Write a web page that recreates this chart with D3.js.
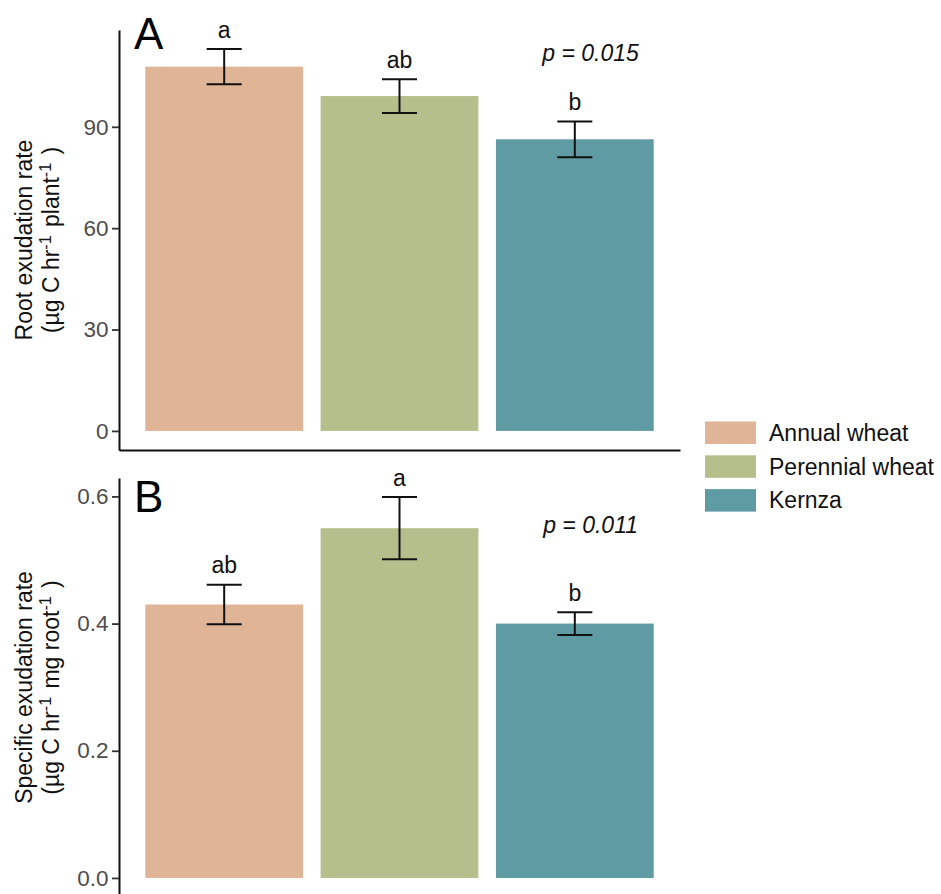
<!DOCTYPE html>
<html>
<head>
<meta charset="utf-8">
<script src="https://cdn.jsdelivr.net/npm/d3@7"></script>
<style>
  html, body { margin: 0; padding: 0; background: #fff; }
  svg { display: block; font-family: "Liberation Sans", Arial, Helvetica, sans-serif; }
</style>
</head>
<body>
<svg id="chart" width="941" height="894"></svg>
<script>
// Treatments and fill colours
const categories = ["Annual wheat", "Perennial wheat", "Kernza"];
const fills = ["#dfb497", "#b5bf8b", "#5f9ba3"];

// Panel A: root exudation rate per plant (mean ± SE)
const exudationMean = [107.8, 99.1, 86.3];
const exudationSE = [5.2, 5.0, 5.3];
const exudationLetters = ["a", "ab", "b"];
const exudationTicks = [0, 30, 60, 90];
const exudationP = "p = 0.015";

// Panel B: specific exudation rate per mg root (mean ± SE)
const specificMean = [0.43, 0.55, 0.40];
const specificSE = [0.031, 0.049, 0.018];
const specificLetters = ["ab", "a", "b"];
const specificTicks = [0, 0.2, 0.4, 0.6];
const specificP = "p = 0.011";

const svg = d3.select("#chart");
const FONT = 23;

// Shared discrete x scale (bar width 0.9 of a category step, 0.6 step margin at the ends)
const x = d3.scaleBand()
  .domain(categories)
  .range([119, 680])
  .paddingInner(0.1)
  .paddingOuter(0.15)
  .align(0.5);
const color = d3.scaleOrdinal().domain(categories).range(fills);

function drawPanel(cfg) {
  const rows = categories.map((c, i) => ({
    cat: c, mean: cfg.means[i], se: cfg.se[i], letter: cfg.letters[i]
  }));
  const hi = d3.max(rows, d => d.mean + d.se);
  const pad = hi * 0.05;
  const y = d3.scaleLinear().domain([-pad, hi + pad]).range([cfg.bottom, cfg.top]);

  const g = svg.append("g");

  // bars
  g.selectAll("rect.bar").data(rows).join("rect")
    .attr("class", "bar")
    .attr("x", d => x(d.cat))
    .attr("width", x.bandwidth())
    .attr("y", d => y(d.mean))
    .attr("height", d => y(0) - y(d.mean))
    .attr("fill", d => color(d.cat));

  // error bars
  const capHalf = x.step() * 0.1;
  const eb = g.selectAll("g.err").data(rows).join("g").attr("class", "err")
    .attr("stroke", "#111").attr("stroke-width", 2).attr("fill", "none");
  eb.append("line")
    .attr("x1", d => x(d.cat) + x.bandwidth() / 2)
    .attr("x2", d => x(d.cat) + x.bandwidth() / 2)
    .attr("y1", d => y(d.mean + d.se))
    .attr("y2", d => y(d.mean - d.se));
  eb.append("line")
    .attr("x1", d => x(d.cat) + x.bandwidth() / 2 - capHalf)
    .attr("x2", d => x(d.cat) + x.bandwidth() / 2 + capHalf)
    .attr("y1", d => y(d.mean + d.se))
    .attr("y2", d => y(d.mean + d.se));
  eb.append("line")
    .attr("x1", d => x(d.cat) + x.bandwidth() / 2 - capHalf)
    .attr("x2", d => x(d.cat) + x.bandwidth() / 2 + capHalf)
    .attr("y1", d => y(d.mean - d.se))
    .attr("y2", d => y(d.mean - d.se));

  // significance letters
  g.selectAll("text.letter").data(rows).join("text")
    .attr("class", "letter")
    .attr("x", d => x(d.cat) + x.bandwidth() / 2)
    .attr("y", d => y(d.mean + d.se) - 11.5)
    .attr("text-anchor", "middle")
    .attr("font-size", FONT)
    .attr("fill", "#111")
    .text(d => d.letter);

  // p-value annotation
  g.append("text")
    .attr("x", x("Kernza") + x.bandwidth() / 2 + x.step() * 0.09)
    .attr("y", y(cfg.pY))
    .attr("text-anchor", "middle")
    .attr("font-size", FONT)
    .attr("font-style", "italic")
    .attr("fill", "#111")
    .text(cfg.pText);

  // y axis
  const ya = g.append("g")
    .attr("transform", `translate(119,0)`)
    .call(d3.axisLeft(y).tickValues(cfg.ticks).tickFormat(cfg.fmt)
      .tickSize(7).tickSizeOuter(0).tickPadding(3.5));
  ya.select(".domain").attr("stroke", "#111").attr("stroke-width", 2);
  ya.selectAll(".tick line").attr("stroke", "#333").attr("stroke-width", 1.8);
  ya.selectAll(".tick text")
    .attr("font-size", 22.5)
    .attr("fill", "#4d4d4d")
    .attr("font-family", "Liberation Sans, Arial, sans-serif");

  // x axis line (no ticks or labels)
  const xa = g.append("g")
    .attr("transform", `translate(0,${cfg.bottom})`)
    .call(d3.axisBottom(x).tickSize(0).tickSizeOuter(0).tickFormat(""));
  xa.select(".domain").attr("stroke", "#111").attr("stroke-width", 2);
  xa.selectAll(".tick").remove();

  // y axis title, two lines with superscripts
  const cy = (cfg.top + cfg.bottom) / 2;
  const title = g.append("text")
    .attr("transform", `translate(0,${cy}) rotate(-90)`)
    .attr("text-anchor", "middle")
    .attr("font-size", FONT)
    .attr("fill", "#111");
  title.append("tspan").attr("x", 0).attr("y", 31.5).text(cfg.title1);
  const l2 = title.append("tspan").attr("x", 0).attr("y", 58.5);
  cfg.title2.forEach(part => {
    if (part.sup) {
      l2.append("tspan").attr("font-size", FONT * 0.7).attr("dy", -8).text(part.sup);
      l2.append("tspan").attr("dy", 8).text("\u200a");
    } else {
      l2.append("tspan").text(part.t);
    }
  });

  // panel tag
  g.append("text")
    .attr("x", 134)
    .attr("y", cfg.tagY)
    .attr("font-size", 44)
    .attr("fill", "#000")
    .text(cfg.tag);
}

drawPanel({
  top: 30, bottom: 450,
  means: exudationMean, se: exudationSE, letters: exudationLetters,
  ticks: exudationTicks, fmt: d3.format("d"),
  pText: exudationP, pY: 109.5,
  tag: "A", tagY: 48.5,
  title1: "Root exudation rate",
  title2: [{t: "(µg C hr"}, {sup: "-1"}, {t: " plant"}, {sup: "-1"}, {t: " )"}]
});

drawPanel({
  top: 478, bottom: 897,
  means: specificMean, se: specificSE, letters: specificLetters,
  ticks: specificTicks, fmt: d3.format(".1f"),
  pText: specificP, pY: 0.542,
  tag: "B", tagY: 512,
  title1: "Specific exudation rate",
  title2: [{t: "(µg C hr"}, {sup: "-1"}, {t: " mg root"}, {sup: "-1"}, {t: " )"}]
});

// legend
const legend = svg.append("g").attr("transform", "translate(705,421.5)");
const items = legend.selectAll("g").data(categories).join("g")
  .attr("transform", (d, i) => `translate(0,${i * 33.8})`);
items.append("rect")
  .attr("width", 51).attr("height", 22.5)
  .attr("fill", d => color(d));
items.append("text")
  .attr("x", 64).attr("y", 11.25)
  .attr("dominant-baseline", "central")
  .attr("font-size", FONT)
  .attr("fill", "#111")
  .text(d => d);
</script>
</body>
</html>
